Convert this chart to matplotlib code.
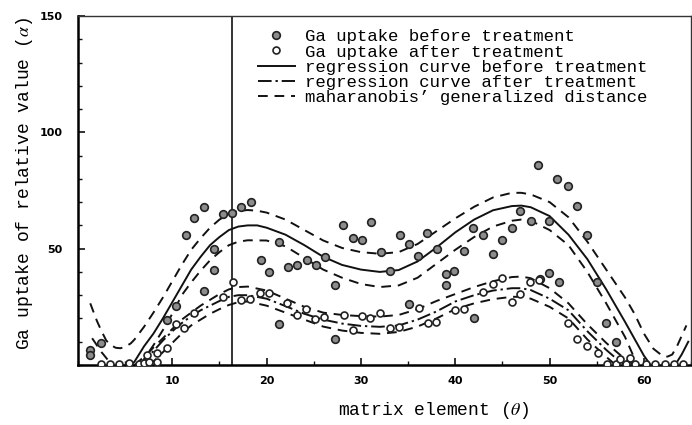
import matplotlib
matplotlib.use("Agg")
import matplotlib.pyplot as plt
from matplotlib.ticker import MultipleLocator

plt.rcParams['mathtext.fontset'] = 'stix'
MONO = ['Liberation Mono', 'DejaVu Sans Mono']
TICKFONT = ['Liberation Sans Narrow', 'DejaVu Sans']

# Ga uptake before treatment (measured points)
before_x = [1.3, 1.3, 2.4, 9.4, 10.4, 11.4, 12.3, 13.4, 13.4, 14.4, 14.4, 15.4,
            16.3, 17.3, 18.3, 19.4, 20.3, 21.3, 21.3, 22.3, 23.2, 24.3, 25.2,
            26.2, 27.2, 27.2, 28.1, 29.2, 30.1, 31.1, 32.1, 33.1, 34.1, 35.1,
            35.1, 36.0, 37.0, 38.1, 39.0, 39.0, 39.9, 40.9, 41.9, 42.0, 42.9,
            44.0, 45.0, 46.0, 46.9, 48.0, 48.8, 49.0, 49.9, 49.9, 50.8, 51.0,
            51.9, 52.9, 54.0, 55.0, 56.0, 57.0]
before_y = [6.5, 4.5, 9.3, 19.3, 25.5, 56, 63, 68, 32, 50, 41, 65,
            65.5, 68, 70, 45, 40, 53, 17.6, 42, 43, 45, 43,
            46.5, 34.2, 11, 60, 54.6, 53.6, 61.6, 48.5, 40.6, 56, 52,
            26.2, 47, 56.8, 50, 39.3, 34.3, 40.5, 49, 58.8, 20.3, 55.9,
            47.5, 53.8, 59, 66, 61.8, 86, 36.8, 61.9, 39.6, 80, 35.6,
            77, 68.3, 55.8, 35.5, 17.9, 9.8]

# Ga uptake after treatment (measured points)
after_x = [2.4, 3.4, 4.3, 5.4, 6.5, 7.0, 7.5, 8.4, 7.3, 8.4, 9.4, 10.4, 11.2,
           12.3, 15.4, 16.4, 17.3, 18.2, 19.3, 20.3, 22.2, 23.2, 24.2, 25.1,
           26.1, 28.2, 29.2, 30.1, 31.0, 32.0, 33.1, 34.0, 36.1, 37.1, 38.0,
           40.0, 40.9, 42.9, 44.0, 44.9, 46.0, 46.9, 47.9, 48.9, 51.9, 52.9,
           54.0, 55.1, 56.1, 57.0, 57.5, 58.1, 58.5, 59.1, 60.2, 61.2, 62.2,
           63.2, 64.1]
after_y = [0.5, 0.3, 0.3, 0.8, 0.5, 1, 1.2, 1.3, 4.5, 5.3, 7.4, 17.6, 15.7,
           22.5, 29.3, 35.5, 27.9, 28.3, 30.8, 30.8, 26.5, 21.6, 23.9, 19.6,
           20.7, 21.3, 15, 21, 20.2, 22.2, 15.7, 16.4, 24.3, 18.2, 18.3,
           23.6, 23.9, 31.2, 34.6, 37.6, 27.2, 30.5, 35.5, 36.5, 18.2, 11,
           8.2, 5, 0.5, 0.5, 2.5, 0.5, 3, 0.5, 0.5, 0.5, 0.3,
           0.3, 0.5]

# regression curve before treatment (two pieces)
reg_b_x = [5.7, 6, 7, 8, 9, 10, 11, 12, 13, 14, 15, 16, 17, 18, 19, 20, 22, 24,
           26, 28, 30, 32, 34, 36, 38, 40, 42, 44, 46, 47, 48, 50, 52, 54, 56,
           58, 60, 60.7]
reg_b_y = [0, 1.5, 8, 13.5, 20, 27, 34, 41, 46.5, 51.5, 55, 58, 59.5, 60, 60,
           59, 56, 51.5, 46.5, 43, 41, 40, 40.8, 44.5, 50.5, 57, 62.5, 66.5,
           68.3, 68.5, 67.8, 64, 56, 45.5, 32.5, 18.5, 4, 0]
reg_b2_x = [63.3, 64.0, 64.7]
reg_b2_y = [0, 4.5, 10]

# mahalanobis distance band, before treatment
up_b_x = [1.3, 2, 2.5, 3, 3.5, 4, 4.5, 5, 5.6, 6, 7, 8, 9, 10, 11, 12, 13, 14,
          15, 16, 17, 18, 19, 20, 22, 24, 26, 28, 30, 32, 34, 36, 38, 40, 42,
          44, 46, 47, 48, 50, 52, 54, 56, 57, 58, 59, 60, 61, 62, 62.5, 63,
          63.5, 64, 64.5]
up_b_y = [26.5, 19, 14.5, 10.5, 8.5, 7.4, 7.2, 7.8, 9.3, 11, 16.4, 22.5, 29,
          36, 43, 49.5, 54.5, 59, 62.5, 65, 66.2, 66.6, 66.3, 65.5, 62.5, 58,
          53.5, 50.3, 48.5, 47.8, 48.5, 52, 57.5, 63, 68, 72, 74, 74, 73.3, 70,
          63.5, 53, 41, 35, 29, 22, 13.5, 7, 3.8, 3.6, 4.5, 8, 12.5, 17]
lo_b1_x = [1.5, 2, 2.5, 3, 3.5]
lo_b1_y = [11.5, 8.5, 5.5, 3, 0.5]
lo_b_x = [6.6, 7, 8, 9, 10, 11, 12, 13, 14, 15, 16, 17, 18, 20, 22, 24, 26, 28,
          30, 32, 34, 36, 38, 40, 42, 44, 46, 47, 48, 50, 52, 54, 56, 58, 59.3]
lo_b_y = [0, 2.5, 8.5, 15, 22, 30, 35.5, 40.5, 45, 48.5, 51.5, 53, 53.6, 53.5,
          51, 46, 41, 37.5, 34.8, 33.5, 34.2, 37.5, 43.5, 49.5, 55, 59.5, 62,
          62.5, 62, 58, 51.5, 40, 26.5, 12, 0]

# regression curve after treatment
reg_a_x = [6.5, 7, 8, 9, 10, 11, 12, 13, 14, 15, 16, 17, 18, 20, 22, 24, 26, 28,
           30, 32, 34, 36, 38, 40, 42, 44, 46, 47, 48, 50, 52, 54, 56, 57, 58]
reg_a_y = [0, 2, 6, 10.5, 14.5, 18, 21, 23.5, 25.5, 27.5, 29.3, 30, 30, 28.5,
           25.3, 22, 19.5, 17.8, 16.8, 16.4, 17, 19.5, 23, 27.3, 30, 32, 33, 33,
           32.2, 28.5, 23.5, 14.5, 6.5, 3, 0]

# mahalanobis distance band, after treatment
up_a_x = [6, 7, 8, 9, 10, 11, 12, 13, 14, 15, 16, 17, 18, 20, 22, 24, 26, 28,
          30, 32, 34, 36, 38, 40, 42, 44, 46, 47, 48, 50, 52, 54, 56, 57, 58, 59]
up_a_y = [0, 3.5, 7.5, 11.5, 15.5, 19.5, 22.5, 25.5, 28, 30.5, 32.5, 33.5,
          33.7, 32, 28.5, 25, 22.5, 21.5, 21, 20.8, 21.5, 24, 27.5, 30.5, 33.5,
          36, 37.8, 38, 37.3, 33, 26.5, 17.5, 9.5, 6, 2.5, 0]
lo_a_x = [7.5, 8, 9, 10, 11, 12, 13, 14, 15, 16, 17, 18, 20, 22, 24, 26, 28,
          30, 32, 34, 36, 38, 40, 42, 44, 46, 47, 48, 50, 52, 54, 56, 57]
lo_a_y = [0, 1.5, 5.5, 9.5, 13.5, 17, 19.5, 22, 24, 25.8, 27, 27.3, 25.5, 22.5,
          19.5, 16.5, 14.8, 13.8, 13.4, 14.2, 16.5, 20, 24, 26.5, 28.3, 29.3,
          29.3, 28.5, 25, 20, 11, 3.5, 0]

split_x = 16.3

fig = plt.figure(figsize=(6.92, 4.25), dpi=100)
ax = fig.add_axes([0.1127, 0.1412, 0.886, 0.8212])

dash = (5, 3.5)
dashdot = (7, 2, 1.2, 2)
lw = 1.4
k = '#111111'

ax.axvline(split_x, color=k, lw=1.2)

h_reg_b, = ax.plot(reg_b_x, reg_b_y, color=k, lw=lw)
ax.plot(reg_b2_x, reg_b2_y, color=k, lw=lw)
h_reg_a, = ax.plot(reg_a_x, reg_a_y, color=k, lw=lw, dashes=dashdot)
h_dist, = ax.plot(up_b_x, up_b_y, color=k, lw=lw, dashes=dash)
for xs, ys in [(lo_b1_x, lo_b1_y), (lo_b_x, lo_b_y), (up_a_x, up_a_y), (lo_a_x, lo_a_y)]:
    ax.plot(xs, ys, color=k, lw=lw, dashes=dash)

h_bef, = ax.plot(before_x, before_y, 'o', ms=5.5, mfc='#8c8c8c', mec='#222222',
                 mew=1.2, ls='none', zorder=3)
h_aft, = ax.plot(after_x, after_y, 'o', ms=5, mfc='white', mec='#222222',
                 mew=1.2, ls='none', zorder=3)

ax.set_xlim(0, 65)
ax.set_ylim(0, 150)
ax.xaxis.set_major_locator(MultipleLocator(10))
ax.xaxis.set_minor_locator(MultipleLocator(5))
ax.yaxis.set_major_locator(MultipleLocator(50))
ax.yaxis.set_minor_locator(MultipleLocator(10))
ax.tick_params(which='both', direction='in', top=False, right=False, color=k)
ax.tick_params(which='major', length=5, width=1.2)
ax.tick_params(which='minor', length=3, width=1)
ax.tick_params(axis='x', pad=8)
ax.tick_params(axis='y', pad=11)
ax.set_xticks([10, 20, 30, 40, 50, 60])
ax.set_yticks([50, 100, 150])
for lab in ax.get_xticklabels() + ax.get_yticklabels():
    lab.set_family(TICKFONT)
    lab.set_fontweight('bold')
    lab.set_fontsize(8)

for side in ['left', 'bottom']:
    ax.spines[side].set_linewidth(1.8)
for side in ['top', 'right']:
    ax.spines[side].set_linewidth(1.0)
    ax.spines[side].set_color('#333333')

ax.set_xlabel(r'matrix element ($\theta$)', family=MONO, fontsize=13)
ax.xaxis.set_label_coords(0.58, -0.1)
ax.set_ylabel(r'Ga uptake of relative value ($\alpha$)', family=MONO, fontsize=13)
ax.yaxis.set_label_coords(-0.07, 0.52)

ax.legend([h_bef, h_aft, h_reg_b, h_reg_a, h_dist],
          ['Ga uptake before treatment', 'Ga uptake after treatment',
           'regression curve before treatment', 'regression curve after treatment',
           "maharanobis\u2019 generalized distance"],
          loc='upper left', bbox_to_anchor=(0.294, 0.962), frameon=False,
          prop={'family': MONO, 'size': 12.5}, handlelength=2.1,
          handletextpad=0.6, borderpad=0, borderaxespad=0, labelspacing=0.0)

fig.savefig('out.png', dpi=100)
